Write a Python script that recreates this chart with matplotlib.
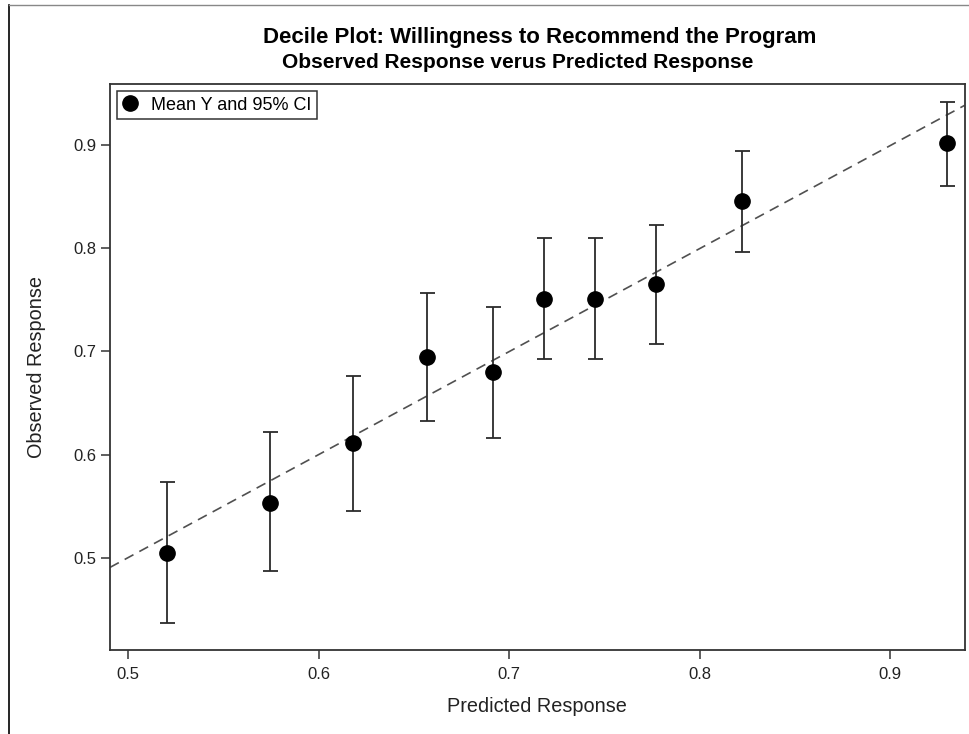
import matplotlib
matplotlib.use("Agg")
import matplotlib.pyplot as plt
from matplotlib.lines import Line2D

# Decile summary: mean predicted vs. mean observed with 95% CI
predicted = [0.5202, 0.5745, 0.6181, 0.6568, 0.6913, 0.7184, 0.7448, 0.7768, 0.8223, 0.9298]
observed = [0.5047, 0.5532, 0.6109, 0.6947, 0.6798, 0.7510, 0.7510, 0.7655, 0.8458, 0.9021]
ci_lower = [0.4367, 0.4869, 0.5451, 0.6322, 0.6160, 0.6930, 0.6930, 0.7076, 0.7966, 0.8604]
ci_upper = [0.5730, 0.6216, 0.6765, 0.7565, 0.7435, 0.8102, 0.8102, 0.8228, 0.8944, 0.9420]
x_ticks = [0.5, 0.6, 0.7, 0.8, 0.9]
y_ticks = [0.5, 0.6, 0.7, 0.8, 0.9]

plt.rcParams["font.family"] = ["Liberation Sans", "DejaVu Sans"]

W, H = 969, 734
fig = plt.figure(figsize=(W / 100, H / 100), dpi=100)
L, R, T, B = 110, 964.5, 84, 650
ax = fig.add_axes([L / W, 1 - B / H, (R - L) / W, (B - T) / H])

xlo, xhi = 0.4904, 0.9389
ylo, yhi = 0.4102, 0.9597
ax.set_xlim(xlo, xhi)
ax.set_ylim(ylo, yhi)

# reference diagonal (observed = predicted)
ax.plot([xlo, xhi], [xlo, xhi], color="#505050", lw=1.2,
        dashes=(6, 4), zorder=1)

yerr = [[o - lo for o, lo in zip(observed, ci_lower)],
        [hi - o for o, hi in zip(observed, ci_upper)]]
ax.errorbar(predicted, observed, yerr=yerr, fmt="none", ecolor="#2b2b2b",
            elinewidth=1.3, capsize=5.4, capthick=1.3, zorder=2)
ax.plot(predicted, observed, "o", color="black", markersize=11, zorder=3)

ax.set_xticks(x_ticks)
ax.set_yticks(y_ticks)
ax.set_xticklabels([f"{v:.1f}" for v in x_ticks])
ax.set_yticklabels([f"{v:.1f}" for v in y_ticks])
ax.tick_params(direction="out", length=6.5, width=1.1, color="#333333",
               labelsize=12, labelcolor="#222222")
ax.tick_params(axis="x", pad=6.0)
ax.tick_params(axis="y", pad=3.5)
for s in ax.spines.values():
    s.set_color("#333333")
    s.set_linewidth(1.3)

fig.text(537 / W, 1 - 707 / H, "Predicted Response", ha="center", va="center",
         fontsize=14.3, color="#222222")
fig.text(37 / W, 1 - 367 / H, "Observed Response", ha="center", va="center",
         rotation=90, fontsize=14.3, color="#222222")

handle = Line2D([], [], marker="o", color="black", linestyle="none", markersize=11)
leg = ax.legend([handle], ["Mean Y and 95% CI"], loc="upper left",
                bbox_to_anchor=(0.008, 0.987), fontsize=13, frameon=True,
                fancybox=False, borderpad=0.3, handletextpad=0.7,
                handlelength=0.9, borderaxespad=0.0)
leg.get_frame().set_edgecolor("black")
leg.get_frame().set_linewidth(1.1)

fig.text(539.5 / W, 1 - 38 / H, "Decile Plot: Willingness to Recommend the Program",
         ha="center", va="center", fontsize=16, fontweight="bold")
fig.text(517.5 / W, 1 - 63 / H, "Observed Response verus Predicted Response",
         ha="center", va="center", fontsize=15, fontweight="bold")

# outer frame lines
fig.add_artist(Line2D([9 / W, 9 / W], [0, 1 - 5 / H], color="black", lw=1.2))
fig.add_artist(Line2D([9 / W, 1], [1 - 5 / H, 1 - 5 / H], color="#888888", lw=1.0))

fig.savefig("out.png", dpi=100)
